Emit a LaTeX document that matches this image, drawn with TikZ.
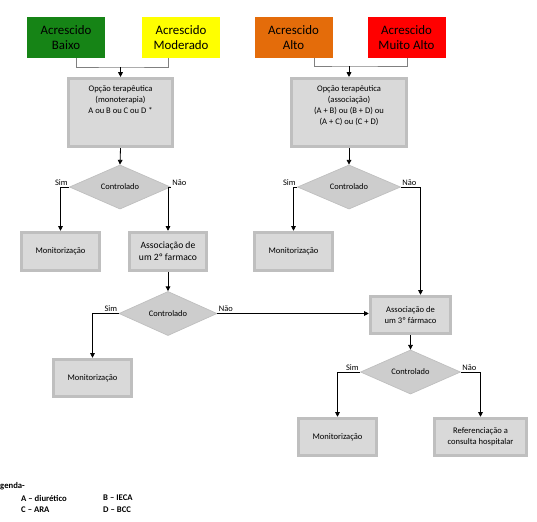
\documentclass[tikz,border=0pt]{standalone}
\usepackage{fontspec}
\setmainfont{Carlito}
\usetikzlibrary{shapes.geometric,arrows.meta}
\definecolor{verdeR}{RGB}{22,132,22}
\definecolor{amareloR}{RGB}{255,255,0}
\definecolor{laranjaR}{RGB}{228,108,10}
\definecolor{vermelhoR}{RGB}{255,0,0}
\definecolor{cxFundo}{RGB}{217,217,217}
\definecolor{cxBorda}{RGB}{191,191,191}
\definecolor{lsFundo}{RGB}{205,205,205}
\tikzset{
	risco/.style={rectangle, minimum width=2.34cm, minimum height=1.23cm, inner sep=0pt, align=center, font=\fontsize{11}{13}\selectfont},
	caixa/.style={rectangle, fill=cxFundo, draw=cxBorda, line width=2.4pt, inner sep=0pt, align=center, font=\fontsize{7.3}{9}\selectfont},
	losango/.style={diamond, fill=lsFundo, draw=cxBorda, line width=0.6pt, inner sep=0pt, font=\fontsize{7.2}{9}\selectfont},
	seta/.style={-{Triangle[length=4pt,width=4pt]}, line width=0.7pt},
	chave/.style={draw=gray, line width=0.7pt},
	rotulo/.style={font=\fontsize{7.2}{9}\selectfont, inner sep=1pt},
	legenda/.style={font=\bfseries\fontsize{7.4}{9}\selectfont, anchor=west, inner sep=0pt}
}
\begin{document}
\begin{tikzpicture}[x=0.03cm, y=-0.03cm]  %Escala em pixels
	\useasboundingbox (0,0) rectangle (537,521);
		%Niveis de risco
	\node[risco, fill=verdeR] (baixo) at (66,37.5) {Acrescido\\Baixo};
	\node[risco, fill=amareloR] (moderado) at (181,37.5) {Acrescido\\Moderado};
	\node[risco, fill=laranjaR] (alto) at (293.5,37.5) {Acrescido\\Alto};
	\node[risco, fill=vermelhoR] (muitoalto) at (406.5,37.5) {Acrescido\\Muito Alto};
		%Opcoes terapeuticas
	\node[caixa, minimum width=3.13cm, minimum height=2.05cm] (mono) at (120.5,112.5) {\parbox[t][1.85cm][t]{3cm}{\fontsize{7.3}{9.6}\selectfont\centering\vspace{3pt}Opção terapêutica\\(monoterapia)\\A ou B ou C ou D *}};
	\node[caixa, minimum width=3.46cm, minimum height=2.05cm] (assoc) at (349,112.5) {\parbox[t][1.85cm][t]{3.3cm}{\fontsize{7.3}{9.6}\selectfont\centering\vspace{3pt}Opção terapêutica\\(associação)\\(A + B) ou (B + D) ou\\(A + C) ou (C + D)}};
		%Decisoes
	\node[losango, minimum width=3.03cm, minimum height=1.2cm] (contrA) at (120,187) {Controlado};
	\node[losango, minimum width=3.09cm, minimum height=1.23cm] (contrB) at (349,187) {Controlado};
	\node[losango, minimum width=2.94cm, minimum height=1.2cm] (contrC) at (168,313.5) {Controlado};
	\node[losango, minimum width=3.0cm, minimum height=1.2cm] (contrD) at (410.5,372) {Controlado};
		%Caixas de resultado
	\node[caixa, minimum width=2.36cm, minimum height=1.16cm] (monitA) at (60.5,251.5) {Monitorização};
	\node[caixa, minimum width=2.33cm, minimum height=1.16cm, font=\fontsize{8.2}{10}\selectfont] (farm2) at (168,251.5) {Associação de\\um 2º farmaco};
	\node[caixa, minimum width=2.36cm, minimum height=1.16cm] (monitB) at (293.5,251.5) {Monitorização};
	\node[caixa, minimum width=2.36cm, minimum height=1.13cm] (monitC) at (92.5,378) {Monitorização};
	\node[caixa, minimum width=2.42cm, minimum height=1.13cm] (farm3) at (410.5,315) {Associação de\\um 3º fármaco};
	\node[caixa, minimum width=2.36cm, minimum height=1.13cm] (monitD) at (337.5,437) {Monitorização};
	\node[caixa, minimum width=2.78cm, minimum height=1.13cm] (refer) at (480.5,437) {Referenciação a\\consulta hospitalar};
		%Ligacoes do topo
	\coordinate (juncA) at (mono.north |- 0,67);
	\coordinate (juncB) at (assoc.north |- 0,66);
	\draw[chave] ([xshift=0.3cm]baixo.south) |- (juncA) -| ([xshift=-0.39cm]moderado.south);
	\draw[seta] (juncA) -- (mono.north);
	\draw[chave] ([xshift=0.64cm]alto.south) |- (juncB) -| ([xshift=0.03cm]muitoalto.south);
	\draw[seta] (juncB) -- (assoc.north);
		%Ramo da monoterapia
	\draw[seta] (mono.south) -- (contrA.north);
	\draw[seta] (contrA.west) -| (monitA.north) node[rotulo, pos=0, above left]{Sim};
	\draw[seta] (contrA.east) -| (farm2.north) node[rotulo, pos=0, above right]{Não};
	\draw[seta] (farm2.south) -- (contrC.north);
	\draw[seta] (contrC.west) -| (monitC.north) node[rotulo, pos=0, above left]{Sim};
	\draw[seta] (contrC.east) -- (farm3.west |- contrC.east) node[rotulo, pos=0, above right]{Não};
		%Ramo da associacao
	\draw[seta] (assoc.south) -- (contrB.north);
	\draw[seta] (contrB.west) -| (monitB.north) node[rotulo, pos=0, above left]{Sim};
	\draw[seta] (contrB.east) -| ([xshift=0.3cm]farm3.north) node[rotulo, pos=0, above right]{Não};
	\draw[seta] (farm3.south) -- (contrD.north);
	\draw[seta] (contrD.west) -| (monitD.north) node[rotulo, pos=0, above left]{Sim};
	\draw[seta] (contrD.east) -| (refer.north) node[rotulo, pos=0, above right]{Não};
		%Legenda
	\node[legenda] (leg) at (0,486) {genda-};
	\node[legenda] (legA) at (21,498) {A – diurético};
	\node[legenda] (legB) at (103,498) {B – IECA};
	\node[legenda] (legC) at (21,510) {C – ARA};
	\node[legenda] (legD) at (103,510) {D – BCC};
\end{tikzpicture}
\end{document}
